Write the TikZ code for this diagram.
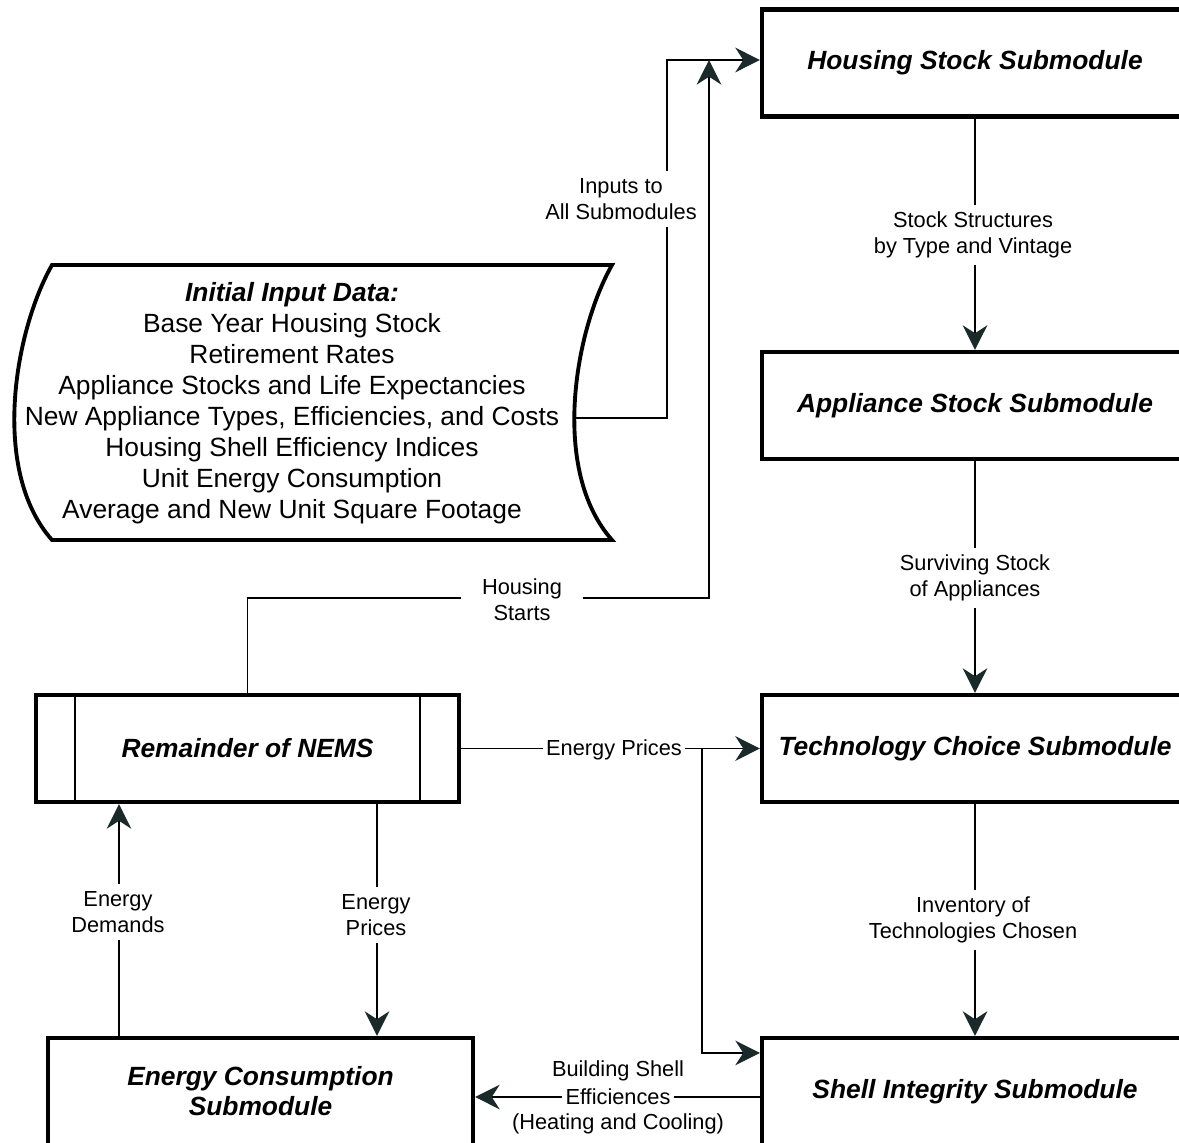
\documentclass[tikz,border=0pt]{standalone}
\usepackage{fontspec}
\setmainfont{Liberation Sans}
\usetikzlibrary{arrows.meta,positioning}

\definecolor{tipcol}{HTML}{1A2A2A}

\tikzset{
  module/.style={draw, line width=2.4pt, minimum width=8.52cm, minimum height=2.14cm,
    align=center, font=\fontsize{15}{17}\selectfont\bfseries\itshape},
  conn/.style={line width=1.1pt, -{Stealth[length=14pt,width=14pt,inset=4.5pt,color=tipcol]}},
  plain/.style={line width=1.1pt},
  lbl/.style={fill=white, inner sep=4pt, align=center, font=\fontsize{12.4}{14.8}\selectfont}
}

\begin{document}
\begin{tikzpicture}[x=0.02cm, y=-0.02cm]
    \useasboundingbox (0,0) rectangle (1179,1142);
    \clip (0,0) rectangle (1179,1142);

    % Submodules on the right
    \node[module] (hs) at (975,63) {Housing Stock Submodule};
    \node[module] (as) at (975,405.5) {Appliance Stock Submodule};
    \node[module] (tc) at (975,748.5) {Technology Choice Submodule};
    \node[module] (si) at (975,1091.5) {Shell Integrity Submodule};

    % Left side
    \node[module, minimum width=8.5cm] (ec) at (260.5,1091.5) {Energy Consumption\\Submodule};
    \node[module, minimum width=8.46cm] (rem) at (247.5,748.5) {Remainder of NEMS};
    \draw[plain] ([xshift=0.82cm]rem.north west) -- ([xshift=0.82cm]rem.south west);
    \draw[plain] ([xshift=-0.82cm]rem.north east) -- ([xshift=-0.82cm]rem.south east);

    % Initial input data
    \draw[line width=2.2pt] (52,265) -- (612,265) .. controls (575,330) and (550,470) .. (612,540)
        -- (52,540) .. controls (-10,470) and (15,330) .. cycle;
    \node[align=center, font=\fontsize{15}{17.6}\selectfont] (init) at (292,403)
        {\textbf{\textit{Initial Input Data:}}\\
         Base Year Housing Stock\\
         Retirement Rates\\
         Appliance Stocks and Life Expectancies\\
         New Appliance Types, Efficiencies, and Costs\\
         Housing Shell Efficiency Indices\\
         Unit Energy Consumption\\
         Average and New Unit Square Footage};
    \coordinate (initout) at (575,418);

    % Bends
    \coordinate (inbend) at (667,60);
    \coordinate (startsup) at (709,60);
    \coordinate (startsbend) at (709,598);
    \coordinate (split) at (702,748.5);
    \coordinate (demx) at (119,0);
    \coordinate (prix) at (377,0);

    % Connect nodes
    \draw[conn] (initout) -| (inbend) -- (hs.west |- inbend);
    \draw[conn] (rem.north) |- (startsbend) -- (startsup);
    \draw[conn] (hs) -- (as);
    \draw[conn] (as) -- (tc);
    \draw[conn] (tc) -- (si);
    \draw[conn] (rem.east) -- (tc.west);
    \draw[conn] (split) |- ([yshift=-0.34cm]si.north west);
    \draw[conn] ([yshift=-0.11cm]si.west) -- ([yshift=-0.11cm]ec.east);
    \draw[conn] (ec.north -| demx) -- (rem.south -| demx);
    \draw[conn] (rem.south -| prix) -- (ec.north -| prix);

    % Labels
    \node[lbl] (inlbl) at (621,199) {Inputs to\\All Submodules};
    \node[lbl, inner xsep=0.42cm] (startslbl) at (522,599.5) {Housing\\Starts};
    \node[lbl] (stocklbl) at (973,235) {Stock Structures\\by Type and Vintage};
    \node[lbl] (survlbl) at (975,578) {Surviving Stock\\of Appliances};
    \node[lbl] (invlbl) at (973,920) {Inventory of\\Technologies Chosen};
    \node[lbl, inner xsep=2pt] (pricelbl) at (614,750) {Energy Prices};
    \node[lbl] (demlbl) at (118,912) {Energy\\Demands};
    \node[lbl] (prilbl) at (376,915) {Energy\\Prices};
    \node[lbl, inner sep=2pt] (efflbl) at (618,1097) {Efficiences};
    \node[lbl, fill=none, inner sep=0pt] at (618,1071) {Building Shell};
    \node[lbl, fill=none, inner sep=0pt] at (618,1124) {(Heating and Cooling)};
\end{tikzpicture}
\end{document}
